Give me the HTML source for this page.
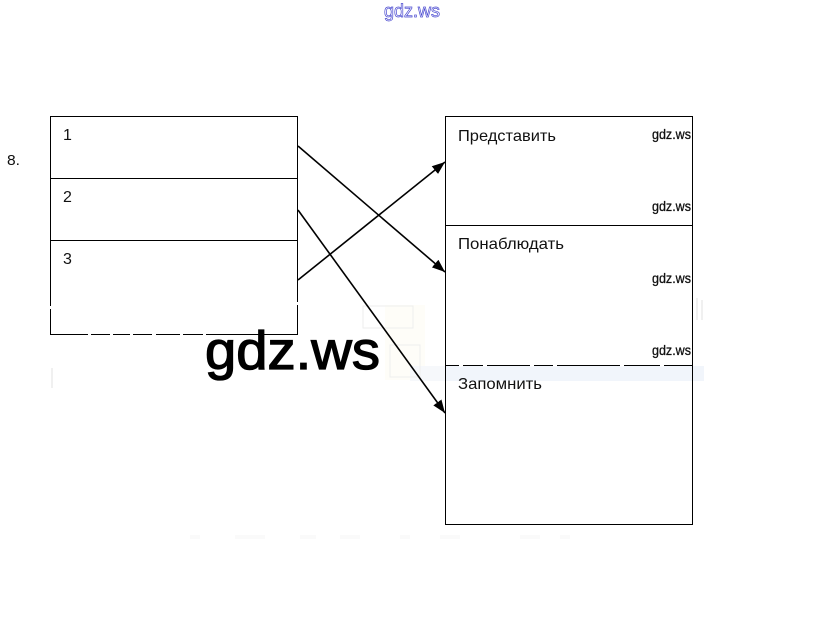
<!DOCTYPE html>
<html>
<head>
<meta charset="utf-8">
<style>
html,body{margin:0;padding:0;background:#fff;width:823px;height:629px;overflow:hidden}
svg{display:block}
text{font-family:"Liberation Sans","DejaVu Sans",sans-serif;fill:#111}
</style>
</head>
<body>
<svg width="823" height="629" viewBox="0 0 823 629" xmlns="http://www.w3.org/2000/svg">
<defs>
<marker id="a" markerUnits="userSpaceOnUse" markerWidth="14" markerHeight="12" refX="13" refY="5" orient="auto">
<path d="M0 0L13 5L0 10z" fill="#000"/>
</marker>
</defs>

<!-- faint watermark remnants -->
<g fill="none">
<rect x="385" y="305" width="40" height="75" fill="#fefdf8"/>
<rect x="446" y="366" width="258" height="15" fill="#f1f5fb"/>
<rect x="410" y="366" width="36" height="15" fill="#f6f8fb"/>
<path d="M363 306h50v22h-50zM390 345h30v32h-30z" stroke="#eeeeee" stroke-width="1"/>
<path d="M697 298v22M702 300v20M52 368v20" stroke="#f0f0f0" stroke-width="2"/>
<path d="M190 537h10M235 537h30M300 537h16M340 537h20M400 537h10M440 537h20M520 537h20M560 537h10" stroke="#fafafa" stroke-width="4"/>
</g>

<!-- left table -->
<g fill="none" stroke="#000" stroke-width="1">
<rect x="50.5" y="116.5" width="247" height="218"/>
<path d="M50 178.500H297M50 240.500H297"/>
<!-- right table -->
<rect x="445.500" y="116.500" width="247" height="408"/>
<path d="M445 225.500H692M445 365.500H692"/>
</g>

<!-- white compression breaks over the lines -->
<g stroke="#fff" stroke-width="2" fill="none">
<path d="M88 334.500h3M110 334.500h3M130 334.500h3M152 334.500h4M180 334.500h3M203 334.500h3M50.500 306v3M297.500 302v3"/>
<path d="M459 365.500h4M483 365.500h4M530 365.500h4M553 365.500h4M620 365.500h4M660 365.500h4"/>
</g>

<!-- arrows -->
<g stroke="#000" stroke-width="1.600" fill="none">
<line x1="298" y1="146" x2="445" y2="272" marker-end="url(#a)"/>
<line x1="298" y1="210" x2="445" y2="413" marker-end="url(#a)"/>
<line x1="298" y1="280" x2="445" y2="162" marker-end="url(#a)"/>
</g>

<!-- labels -->
<text x="7" y="165" font-size="15" textLength="13" lengthAdjust="spacingAndGlyphs">8.</text>
<text x="63" y="140" font-size="16">1</text>
<text x="63" y="202" font-size="16">2</text>
<text x="63" y="264" font-size="16">3</text>

<text x="458" y="141" font-size="16" textLength="98" lengthAdjust="spacingAndGlyphs">Представить</text>
<text x="458" y="249" font-size="16" textLength="106" lengthAdjust="spacingAndGlyphs">Понаблюдать</text>
<text x="458" y="389" font-size="16" textLength="84" lengthAdjust="spacingAndGlyphs">Запомнить</text>

<g font-size="14" style="stroke:#111;stroke-width:0.300">
<text x="652" y="139" textLength="39" lengthAdjust="spacingAndGlyphs">gdz.ws</text>
<text x="652" y="211" textLength="39" lengthAdjust="spacingAndGlyphs">gdz.ws</text>
<text x="652" y="283" textLength="39" lengthAdjust="spacingAndGlyphs">gdz.ws</text>
<text x="652" y="355" textLength="39" lengthAdjust="spacingAndGlyphs">gdz.ws</text>
</g>

<text x="205" y="369" font-size="54" textLength="175" lengthAdjust="spacingAndGlyphs" style="fill:#000;stroke:#000;stroke-width:1.300">gdz.ws</text>

<text x="384" y="17" font-size="18" textLength="56" lengthAdjust="spacingAndGlyphs" style="fill:#fff;stroke:#4a4ad0;stroke-width:0.700">gdz.ws</text>
</svg>
</body>
</html>
